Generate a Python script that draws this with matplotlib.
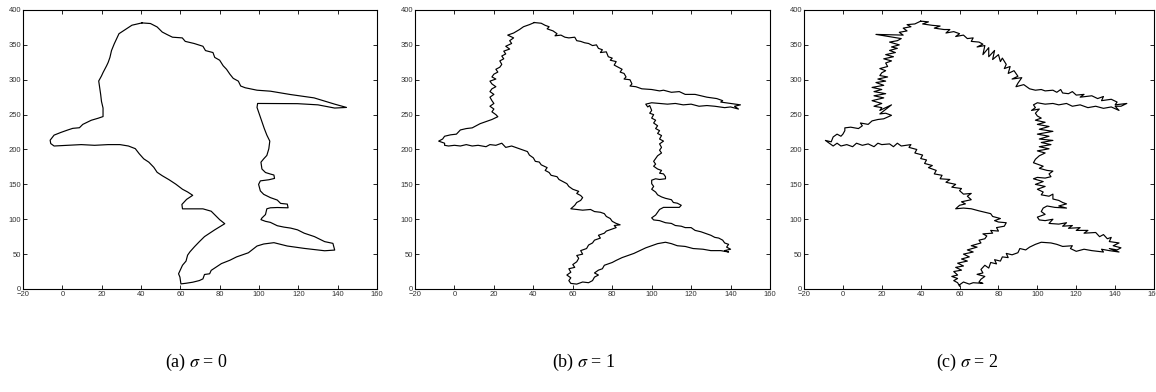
import matplotlib
matplotlib.use('Agg')
import matplotlib.pyplot as plt

##################### contour data (x, y) #####################
# noise-free contour
shape_s0 = [
    (40.5, 381.5), (44.8, 380.6), (48.2, 375.7), (50.8, 368.4), (53.4, 364.6), (56, 361),
    (61, 360), (62.5, 355), (67, 352), (71.5, 348), (72.8, 341.8), (76.6, 339), (77.5, 332),
    (80, 328), (81.8, 320), (83.5, 315), (85.2, 308), (86.9, 302), (89.5, 298), (90.7, 291),
    (93, 288.5), (99, 285), (105.8, 283.6), (116, 278.8), (128, 274), (138.5, 265),
    (144.5, 260.3), (138.5, 259.4), (130, 264), (119.6, 265.7), (105.8, 266), (99.3, 266),
    (99, 260.3), (100.3, 249.7), (101.5, 240), (102.7, 230), (104, 220.6), (105.5, 212),
    (105, 201), (104, 191.5), (102.4, 186.6), (101, 181.8), (101.5, 172), (103.3, 167),
    (105.8, 164.8), (107.6, 163.4), (107.9, 158.5), (105, 156.6), (100.7, 155), (99.8, 150),
    (100.7, 140.6), (102.4, 135.7), (105.8, 131), (109.3, 127.5), (111, 122.7), (114.4, 121.7),
    (114.8, 116.4), (109.3, 116.8), (105.8, 116.4), (104, 115), (103.3, 106.7), (101.5, 101.8),
    (101, 99.4), (103.3, 97), (105.8, 95.5), (109.3, 90.7), (112.7, 88.7), (116.1, 87.3),
    (119.6, 84.8), (123, 80), (128.2, 75.1), (133.4, 67.9), (137.6, 65.4), (138.5, 55.8),
    (133.4, 54.8), (123, 58.2), (114.4, 61.6), (107.6, 66.4), (102.4, 64.5), (99, 61.6),
    (94.6, 51.9), (88.6, 46), (85.2, 41.2), (80.9, 36.4), (75.7, 26.7), (74.9, 21.8),
    (72.3, 20.8), (71.5, 14.5), (69.7, 12.1), (66.3, 9.7), (62.9, 8.2), (60.3, 7.3),
    (59.8, 17), (59.1, 21.8), (60.3, 29), (61.1, 34), (62.9, 40), (63.7, 48.5), (64.9, 53.3),
    (67.2, 60.6), (69.7, 67.9), (72.3, 75.1), (74.9, 80), (77.5, 84.8), (82.6, 93.6),
    (80, 99.4), (78.3, 104.2), (75.7, 111.5), (71.5, 114.9), (67.2, 114.9), (61.1, 114.9),
    (60.8, 121.2), (63.2, 128.5), (66.3, 134.3), (63.7, 139.1), (61.1, 143), (57.7, 150.3),
    (54.3, 156.6), (50.8, 162.4), (48.2, 167.3), (46.5, 174.5), (44, 181.8), (41.4, 186.6),
    (39.1, 193.9), (37.1, 201.2), (33.6, 205), (29.3, 207), (23.3, 207), (16.4, 206),
    (9.6, 207), (2.7, 206), (-4.2, 205), (-5.9, 208.5), (-6.2, 213.3), (-4.2, 220.6),
    (-0.7, 224.5), (2.7, 227.9), (5.3, 230.3), (8.7, 231.2), (10.4, 236), (14.7, 241.9),
    (18.2, 244.8), (20.7, 247.2), (20.7, 259.4), (19.9, 269), (19.5, 278.8), (19, 288.5),
    (18.5, 298.2), (19.9, 305.4), (20.7, 310.3), (22.5, 320), (23.3, 324.8), (24.2, 332),
    (25, 341.8), (26.4, 351.5), (27.6, 358.8), (28.8, 366), (31.9, 371.8), (35.4, 378.2),
    (40.5, 381.5),
]

# sigma = 1
shape_s1 = [
    (40.5, 382), (44, 381), (46, 378), (48, 376), (47, 373), (50, 370), (52, 366), (51, 363),
    (54, 364), (56, 361), (58, 360), (61, 361), (62, 356), (64, 355), (66, 353), (68, 352),
    (70, 349), (72, 350), (73, 345), (75, 343), (74, 339), (77, 340), (78, 333), (80, 331),
    (79, 328), (82, 326), (81, 321), (83, 318), (85, 315), (84, 311), (86, 309), (87, 304),
    (86, 301), (89, 300), (90, 294), (89, 291), (92, 290), (95, 287), (100, 286), (104, 284),
    (106, 285), (110, 282), (114, 283), (117, 279), (122, 279), (128, 275), (133, 273),
    (136, 270), (135, 268), (140, 266), (145, 264), (142, 262), (144, 258), (140, 261),
    (137, 260), (132, 262), (128, 263), (124, 262), (120, 265), (116, 264), (112, 266),
    (108, 265), (104, 266), (100, 267), (97, 265), (98, 261), (99, 263), (100, 256), (99, 252),
    (101, 250), (100, 245), (102, 242), (101, 238), (103, 234), (102, 230), (104, 227),
    (103, 223), (105, 220), (104, 215), (106, 212), (104, 208), (105, 203), (104, 199),
    (105, 195), (103, 191), (102, 187), (101, 183), (102, 179), (101, 176), (103, 172),
    (105, 170), (104, 166), (106, 165), (107, 161), (107, 158), (104, 157), (102, 158),
    (100, 156), (100, 151), (101, 147), (100, 143), (102, 139), (103, 135), (105, 132),
    (107, 130), (110, 128), (111, 124), (113, 123), (115, 120), (114, 117), (110, 117),
    (106, 117), (104, 114), (103, 110), (102, 106), (100, 102), (101, 99), (104, 98),
    (107, 95), (110, 94), (112, 91), (115, 90), (117, 88), (120, 88), (122, 84), (125, 82),
    (127, 80), (130, 77), (132, 74), (134, 73), (136, 70), (137, 66), (139, 64), (138, 60),
    (140, 57), (137, 55), (139, 53), (135, 55), (130, 55), (126, 57), (121, 58), (117, 61),
    (113, 62), (110, 65), (107, 67), (103, 65), (100, 62), (97, 59), (94, 55), (91, 51),
    (88, 48), (85, 45), (82, 41), (80, 38), (76, 34), (75, 29), (73, 27), (71, 23), (73, 20),
    (71, 17), (70, 12), (68, 9), (65, 10), (62, 7), (59, 8), (58, 12), (59, 16), (57, 20),
    (59, 24), (58, 29), (61, 31), (60, 35), (62, 39), (63, 44), (62, 48), (65, 50), (64, 55),
    (67, 58), (68, 63), (70, 66), (71, 70), (74, 73), (73, 77), (76, 80), (77, 83), (80, 86),
    (82, 88), (81, 91), (84, 92), (82, 94), (80, 97), (79, 101), (77, 104), (76, 108),
    (74, 110), (71, 111), (69, 114), (65, 113), (62, 114), (59, 115), (61, 120), (62, 124),
    (64, 127), (65, 131), (64, 134), (62, 137), (63, 140), (60, 143), (58, 147), (57, 151),
    (55, 154), (53, 157), (52, 161), (49, 163), (48, 167), (46, 170), (47, 174), (44, 178),
    (43, 182), (41, 183), (40, 188), (38, 192), (37, 197), (35, 199), (32, 202), (29, 205),
    (26, 203), (24, 209), (21, 206), (18, 207), (16, 204), (12, 206), (9, 205), (6, 207),
    (3, 205), (0, 206), (-3, 205), (-5, 206), (-5, 209), (-8, 212), (-6, 215), (-5, 219),
    (-2, 221), (1, 222), (3, 228), (6, 230), (9, 231), (11, 234), (13, 237), (16, 240),
    (19, 243), (22, 247), (21, 250), (19, 254), (20, 258), (18, 262), (20, 266), (19, 270),
    (18, 275), (20, 279), (18, 283), (19, 287), (21, 290), (19, 294), (18, 298), (21, 301),
    (19, 304), (20, 308), (22, 311), (21, 315), (23, 318), (24, 322), (23, 327), (25, 330),
    (24, 334), (26, 337), (25, 341), (28, 344), (26, 348), (29, 352), (28, 356), (30, 360),
    (27, 364), (30, 367), (33, 372), (35, 376), (38, 379), (40.5, 382),
]

# sigma = 2
shape_s2 = [
    (40, 384), (44, 383), (41, 380), (46, 378), (50, 377), (47, 374), (52, 372), (55, 372),
    (53, 367), (57, 369), (60, 366), (58, 362), (62, 364), (64, 359), (67, 360), (66, 355),
    (70, 354), (72, 351), (69, 347), (73, 349), (72, 336), (75, 346), (75, 333), (78, 342),
    (77, 329), (80, 336), (81, 326), (82, 331), (84, 322), (83, 316), (86, 319), (85, 309),
    (88, 313), (90, 305), (87, 301), (92, 303), (90, 295), (89, 290), (93, 293), (96, 287),
    (99, 285), (102, 286), (104, 284), (108, 285), (110, 282), (112, 286), (113, 281),
    (116, 280), (118, 283), (120, 278), (124, 279), (122, 275), (128, 277), (131, 273),
    (134, 276), (133, 270), (138, 272), (141, 268), (140, 264), (146, 266), (143, 262),
    (140, 262), (142, 256), (138, 261), (134, 259), (130, 262), (126, 260), (122, 264),
    (118, 262), (115, 266), (111, 264), (108, 266), (104, 265), (100, 267), (98, 264),
    (99, 260), (97, 256), (101, 258), (99, 252), (100, 248), (102, 245), (99, 242),
    (104, 239), (100, 236), (106, 233), (101, 229), (108, 226), (100, 222), (106, 219),
    (101, 215), (108, 213), (102, 210), (107, 207), (101, 204), (106, 201), (100, 198),
    (104, 195), (101, 191), (99, 186), (98, 181), (101, 178), (103, 176), (101, 173),
    (105, 170), (108, 169), (106, 165), (107, 161), (104, 159), (100, 160), (98, 158),
    (103, 154), (99, 150), (104, 147), (100, 143), (103, 139), (102, 135), (106, 133),
    (108, 136), (108, 129), (111, 127), (113, 124), (115, 122), (111, 119), (115, 116),
    (109, 117), (105, 119), (103, 116), (102, 111), (104, 107), (100, 103), (101, 99),
    (104, 98), (108, 100), (106, 94), (111, 93), (115, 95), (113, 90), (118, 91), (116, 87),
    (122, 88), (120, 84), (126, 84), (124, 80), (130, 81), (132, 75), (134, 78), (136, 72),
    (138, 74), (137, 68), (142, 66), (139, 62), (143, 59), (141, 56), (137, 58), (142, 53),
    (137, 55), (133, 57), (134, 53), (128, 55), (124, 57), (120, 54), (117, 58), (118, 62),
    (113, 61), (110, 64), (107, 66), (102, 67), (99, 64), (96, 60), (94, 56), (91, 58),
    (90, 52), (87, 49), (84, 51), (85, 45), (82, 46), (81, 40), (78, 42), (79, 36), (76, 38),
    (75, 30), (73, 34), (71, 28), (72, 23), (69, 21), (73, 18), (71, 14), (70, 10), (72, 8),
    (67, 9), (65, 7), (62, 10), (60, 6), (60, 4), (59, 9), (57, 12), (59, 15), (56, 18),
    (59, 20), (57, 25), (61, 27), (58, 31), (62, 33), (59, 37), (64, 40), (61, 43), (65, 46),
    (62, 50), (67, 53), (64, 56), (69, 60), (66, 62), (71, 66), (70, 70), (73, 72), (74, 76),
    (72, 79), (77, 80), (76, 84), (80, 83), (79, 88), (83, 90), (84, 95), (80, 96), (78, 98),
    (81, 101), (77, 104), (76, 108), (73, 110), (70, 112), (66, 115), (62, 116), (58, 115),
    (60, 120), (63, 122), (61, 125), (66, 128), (64, 133), (66, 137), (62, 136), (60, 141),
    (61, 144), (56, 146), (58, 150), (53, 153), (55, 157), (50, 158), (51, 163), (47, 165),
    (48, 170), (44, 174), (46, 177), (42, 180), (43, 185), (40, 187), (41, 192), (37, 195),
    (38, 200), (34, 203), (35, 207), (30, 205), (28, 209), (26, 204), (24, 208), (20, 207),
    (18, 209), (16, 204), (13, 208), (10, 206), (7, 209), (5, 204), (2, 207), (-1, 205),
    (-3, 209), (-5, 205), (-7, 209), (-9, 213), (-6, 211), (-5, 218), (-3, 222), (-1, 219),
    (0, 222), (1, 227), (1, 231), (4, 232), (8, 230), (10, 234), (9, 238), (13, 236),
    (15, 241), (18, 243), (21, 244), (25, 249), (22, 252), (19, 251), (25, 264), (19, 256),
    (20, 260), (16, 262), (20, 266), (15, 270), (21, 274), (16, 277), (22, 280), (16, 283),
    (20, 286), (15, 289), (21, 292), (17, 296), (22, 298), (18, 301), (23, 304), (19, 306),
    (20, 310), (22, 313), (19, 316), (23, 319), (22, 324), (25, 327), (21, 330), (26, 333),
    (22, 336), (27, 339), (24, 342), (28, 345), (25, 347), (29, 350), (24, 354), (28, 356),
    (30, 359), (17, 365), (31, 364), (29, 368), (33, 370), (31, 374), (35, 376), (33, 379),
    (37, 380), (40, 384),
]

shapes = [shape_s0, shape_s1, shape_s2]
captions = [r'(a) $\sigma$ = 0', r'(b) $\sigma$ = 1', r'(c) $\sigma$ = 2']
xticks = [-20, 0, 20, 40, 60, 80, 100, 120, 140, 160]
yticks = [0, 50, 100, 150, 200, 250, 300, 350, 400]

plt.rcParams['mathtext.fontset'] = 'stix'
plt.rcParams['font.family'] = ['Liberation Sans', 'DejaVu Sans']

fig = plt.figure(figsize=(11.56, 3.92), dpi=100)
# axes boxes in figure fractions
boxes = [(0.0199, 0.2628, 0.3062, 0.7117),
         (0.3590, 0.2628, 0.3071, 0.7117),
         (0.6955, 0.2628, 0.3028, 0.7117)]
caption_x = [0.170, 0.505, 0.837]

for pts, box, cap, cx in zip(shapes, boxes, captions, caption_x):
    ax = fig.add_axes(box)
    xs = [p[0] for p in pts]
    ys = [p[1] for p in pts]
    ax.plot(xs, ys, color='black', lw=0.85)
    ax.set_xlim(-20, 160)
    ax.set_ylim(0, 400)
    ax.set_xticks(xticks)
    ax.set_yticks(yticks)
    ax.tick_params(direction='in', top=True, right=True, length=3, width=0.6,
                   labelsize=5.5, labelcolor='#333333', pad=1.5)
    for s in ax.spines.values():
        s.set_linewidth(0.8)
    fig.text(cx, 0.076, cap, ha='center', va='center', fontsize=13,
             family='Liberation Serif')

fig.savefig('out.png', dpi=100)
